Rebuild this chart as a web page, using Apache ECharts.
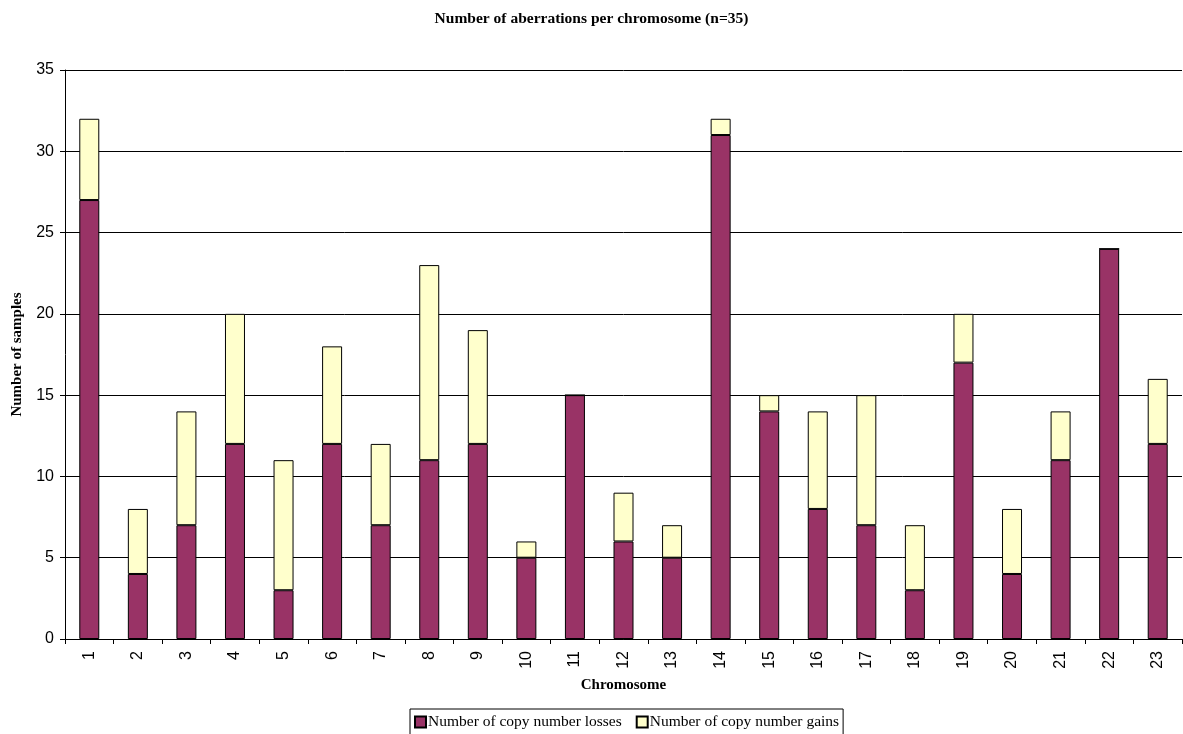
<!DOCTYPE html>
<html>
<head>
<meta charset="utf-8">
<style>
  html, body { margin: 0; padding: 0; background: #fff; }
  #chart { width: 1183px; height: 734px; }
</style>
<script src="https://cdn.jsdelivr.net/npm/echarts@6/dist/echarts.min.js"></script>
</head>
<body>
<div id="chart"></div>
<script>
// Chromosomes 1-23
const chromosomes = ['1','2','3','4','5','6','7','8','9','10','11','12','13','14','15','16','17','18','19','20','21','22','23'];
// Samples with a copy number loss on each chromosome
const losses = [27, 4, 7, 12, 3, 12, 7, 11, 12, 5, 15, 6, 5, 31, 14, 8, 7, 3, 17, 4, 11, 24, 12];
// Samples with a copy number gain on each chromosome
const gains  = [5, 4, 7, 8, 8, 6, 5, 12, 7, 1, 0, 3, 2, 1, 1, 6, 8, 4, 3, 4, 3, 0, 4];

const serif = '"Liberation Serif", "DejaVu Serif", serif';
const sans = '"Liberation Sans", Arial, sans-serif';

const chart = echarts.init(document.getElementById('chart'));
chart.setOption({
  animation: false,
  backgroundColor: '#ffffff',
  title: {
    text: 'Number of aberrations per chromosome (n=35)',
    left: 'center',
    top: 6,
    textStyle: { fontFamily: serif, fontSize: 15.5, fontWeight: 'bold', color: '#000' }
  },
  legend: {
    top: 709,
    left: 410,
    orient: 'horizontal',
    icon: 'rect',
    itemWidth: 11,
    itemHeight: 11,
    itemGap: 14,
    padding: [5, 4, 5, 4],
    borderColor: '#000',
    borderWidth: 1,
    borderRadius: 0,
    textStyle: { fontFamily: serif, fontSize: 15.5, color: '#000', padding: [0, 0, 0, -3] },
    data: ['Number of copy number losses', 'Number of copy number gains']
  },
  grid: { left: 65, right: 1, top: 70, bottom: 95 },
  xAxis: {
    type: 'category',
    data: chromosomes,
    name: 'Chromosome',
    nameLocation: 'middle',
    nameGap: 39,
    nameTextStyle: { fontFamily: serif, fontSize: 15, fontWeight: 'bold', color: '#000' },
    axisLine: { lineStyle: { color: '#000', width: 1 } },
    axisTick: { show: true, length: 5, alignWithLabel: false, lineStyle: { color: '#000' } },
    axisLabel: { rotate: 90, fontFamily: sans, fontSize: 16, color: '#000', margin: 12 }
  },
  yAxis: {
    type: 'value',
    min: 0,
    max: 35,
    interval: 5,
    name: 'Number of samples',
    nameLocation: 'middle',
    nameGap: 40,
    nameTextStyle: { fontFamily: serif, fontSize: 15, fontWeight: 'bold', color: '#000' },
    axisLine: { show: true, lineStyle: { color: '#000', width: 1 } },
    axisTick: { show: true, length: 5, lineStyle: { color: '#000' } },
    axisLabel: { fontFamily: sans, fontSize: 16, color: '#000', margin: 11 },
    splitLine: { show: true, lineStyle: { color: '#000', width: 1 } }
  },
  series: [
    {
      name: 'Number of copy number losses',
      type: 'bar',
      stack: 'total',
      barWidth: 20,
      data: losses,
      itemStyle: { color: '#993366', borderColor: '#000', borderWidth: 1 }
    },
    {
      name: 'Number of copy number gains',
      type: 'bar',
      stack: 'total',
      barWidth: 20,
      data: gains,
      itemStyle: { color: '#ffffcc', borderColor: '#000', borderWidth: 1 }
    }
  ]
});
</script>
</body>
</html>
